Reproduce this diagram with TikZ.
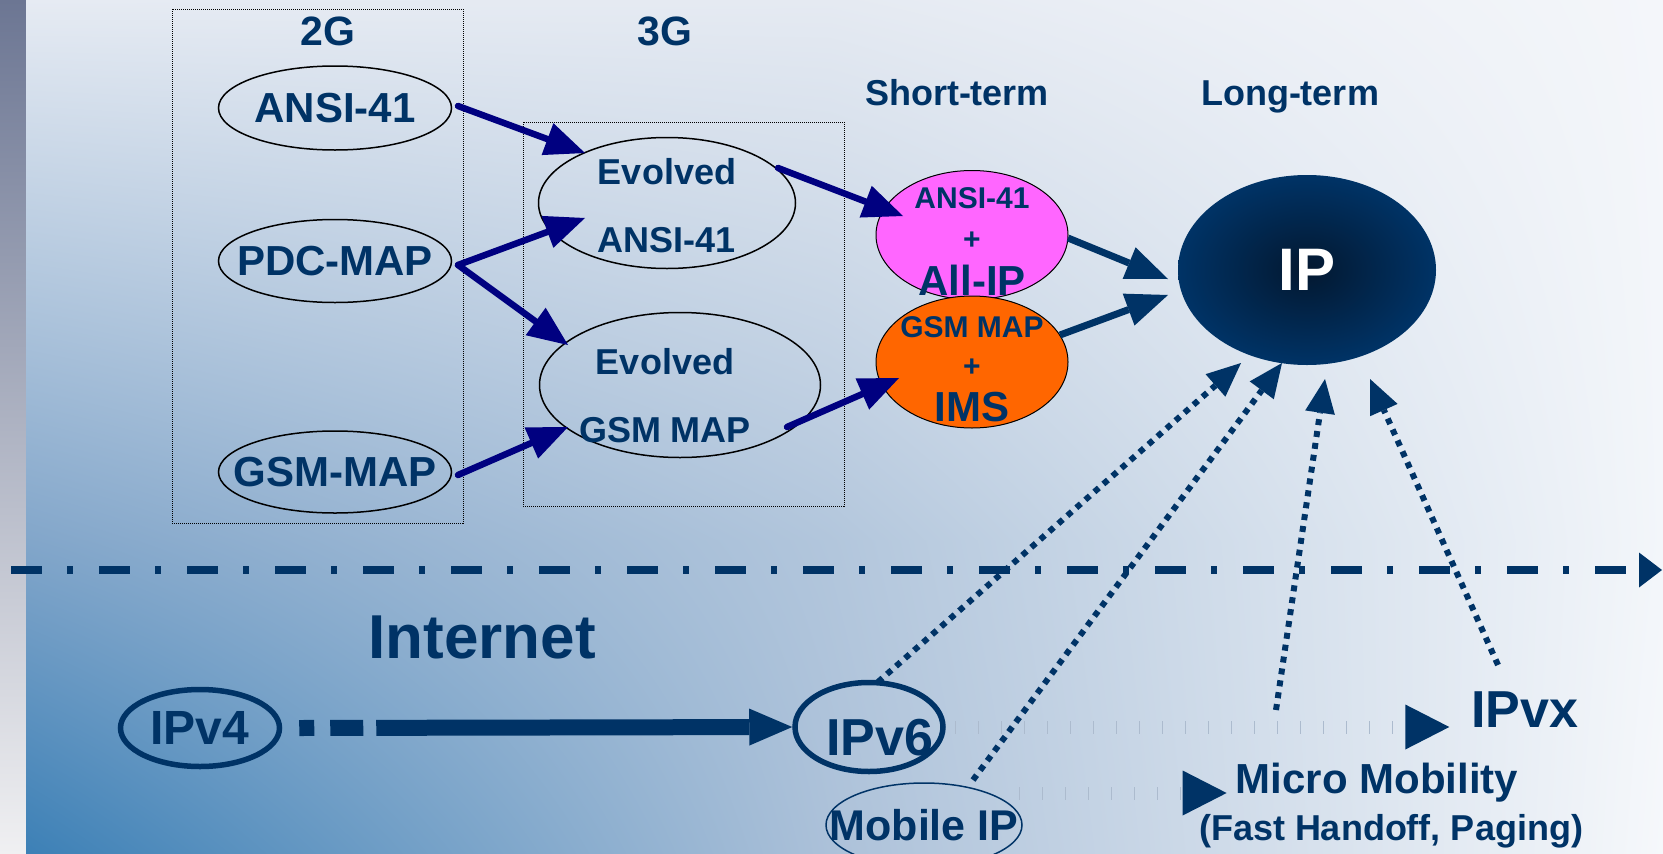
\documentclass[tikz,border=0pt]{standalone}
\usepackage{fontspec}
\setmainfont{Liberation Sans}
\usetikzlibrary{shapes.geometric,arrows.meta,shadings}

\definecolor{inkblue}{RGB}{0,51,102}
\definecolor{navyline}{RGB}{0,0,128}
\definecolor{ipcore}{RGB}{3,24,48}
\definecolor{pinkfill}{RGB}{255,102,255}
\definecolor{orangefill}{RGB}{255,102,0}
\definecolor{tickgray}{RGB}{172,187,206}
% backdrop colours, left strip and a 3x3 grid of corner colours
\definecolor{stripT}{RGB}{108,118,147}
\definecolor{stripB}{RGB}{240,240,242}
\definecolor{bgA}{RGB}{230,235,243}
\definecolor{bgB}{RGB}{229,234,242}
\definecolor{bgC}{RGB}{244,246,250}
\definecolor{bgD}{RGB}{130,166,202}
\definecolor{bgE}{RGB}{178,198,220}
\definecolor{bgF}{RGB}{243,246,250}
\definecolor{bgG}{RGB}{60,128,182}
\definecolor{bgH}{RGB}{172,193,217}
\definecolor{bgI}{RGB}{246,248,251}

\newcommand{\bsz}[1]{\fontsize{#1}{#1}\selectfont\bfseries}

\tikzset{
  lbl/.style={text=inkblue, inner sep=0pt},
  txt/.style={lbl, anchor=base},
  oval/.style={lbl, ellipse, draw=black, line width=1.5pt, inner sep=-40pt},
  ring/.style={lbl, ellipse, draw=inkblue, line width=5.5pt, inner sep=-40pt},
  frame/.style={draw=black, line width=1pt, dash pattern=on 1pt off 1pt},
  feed/.style={draw=navyline, line width=6.5pt, line cap=round,
    -{Triangle[length=40pt, width=34pt, line width=0pt 0 0]}},
  merge/.style={draw=inkblue, line width=7pt,
    -{Triangle[length=42pt, width=34pt, line width=0pt 0 0]}},
  hint/.style={draw=inkblue, line width=6pt, dash pattern=on 6pt off 6pt,
    -{Triangle[length=34pt, width=30pt, line width=0pt 0 0]}},
  ticks/.style={draw=tickgray, line width=13pt, dash pattern=on 1.2pt off 21.8pt,
    -{Triangle[length=44pt, width=45pt, line width=0pt 0 0, color=inkblue]}},
  upgrade/.style={draw=inkblue, line width=16pt,
    dash pattern=on 15pt off 16pt on 33pt off 13pt on 1000pt off 1pt,
    -{Triangle[length=43pt, width=37pt, line width=0pt 0 0]}},
  divider/.style={draw=inkblue, line width=7.5pt,
    dash pattern=on 31pt off 25pt on 6pt off 26pt,
    -{Triangle[length=23pt, width=35pt, line width=0pt 0 0]}},
}

\begin{document}
\begin{tikzpicture}[x=1pt, y=-1pt]
\useasboundingbox (0,0) rectangle (1663,854);
\clip (0,0) rectangle (1663,854);

% backdrop
\shade[top color=stripT, bottom color=stripB] (0,0) rectangle (26,854);
\shade[upper left=bgA, upper right=bgB, lower left=bgD, lower right=bgE] (26,0) rectangle (831,541);
\shade[upper left=bgB, upper right=bgC, lower left=bgE, lower right=bgF] (830,0) rectangle (1663,541);
\shade[upper left=bgD, upper right=bgE, lower left=bgG, lower right=bgH] (26,540) rectangle (831,854);
\shade[upper left=bgE, upper right=bgF, lower left=bgH, lower right=bgI] (830,540) rectangle (1663,854);

% generation boxes
\draw[frame] (172,9) rectangle (463,523);
\draw[frame] (523,122) rectangle (844,506);

\node[txt, font=\bsz{41}] (gen2) at (328,45) {2G};
\node[txt, font=\bsz{41}] (gen3) at (665,45) {3G};
\node[txt, font=\bsz{36}] (short) at (957,105) {Short-term};
\node[txt, font=\bsz{36}] (long) at (1290,105) {Long-term};

% 2G
\node[oval, minimum width=233pt, minimum height=84pt, font=\bsz{42}] (ansi) at (335,108) {ANSI-41};
\node[oval, minimum width=233pt, minimum height=83pt, font=\bsz{42}] (pdc) at (335,261) {PDC-MAP};
\node[oval, minimum width=233pt, minimum height=82pt, font=\bsz{42}] (gsm) at (335,472) {GSM-MAP};

% 3G
\node[oval, minimum width=257pt, minimum height=131pt, font=\bsz{36}, align=center] (evansi) at (667,203) {\rule{0pt}{32pt}Evolved\\[32pt]ANSI-41};
\node[oval, minimum width=281pt, minimum height=145pt] (evgsm) at (680,385) {};
\node[lbl, font=\bsz{36}, align=center] (evgsmtxt) at ([shift={(-15,11)}]evgsm.center) {Evolved\\[32pt]GSM MAP};

% short-term
\node[oval, line width=1pt, fill=pinkfill, minimum width=192pt, minimum height=129pt, font=\bsz{30}, align=center] (allip) at (972,235) {\rule{0pt}{34pt}ANSI-41\\[11pt]+\\[15pt]{\bsz{42}All-IP}};
\node[oval, line width=1pt, fill=orangefill, minimum width=192pt, minimum height=132pt, font=\bsz{30}, align=center] (ims) at (972,362) {\rule{0pt}{36pt}GSM MAP\\[9pt]+\\[15pt]{\bsz{42}IMS}};

% long-term
\node[ellipse, minimum width=258pt, minimum height=190pt, inner sep=0pt, inner color=ipcore, outer color=inkblue, text=white, font=\bsz{60}] (ip) at (1307,270) {IP};

% internet side
\draw[divider] (11,570) -- (1662,570);
\node[txt, font=\bsz{62}] (inet) at (482,658) {Internet};
\node[ring, minimum width=159pt, minimum height=77pt, font=\bsz{48}] (ipv4) at (200,728) {IPv4};
\node[ring, minimum width=148pt, minimum height=89pt] (ipv6) at (869,727) {};
\node[txt, font=\bsz{52}] (ipv6txt) at (880,755) {IPv6};
\node[lbl, ellipse, draw=inkblue, line width=1.5pt, inner sep=-40pt, minimum width=196pt, minimum height=84pt, font=\bsz{43}] (mobip) at (924,825) {Mobile IP};
\node[txt, font=\bsz{52}] (ipvx) at (1525,727) {IPvx};
\node[txt, font=\bsz{42}] (micro) at (1377,793) {Micro Mobility};
\node[txt, font=\bsz{36}] (paging) at (1391,840) {(Fast Handoff, Paging)};

% evolution paths
\draw[feed] ([shift={(123,-2)}]ansi.center) -- ([shift={(-82,-50)}]evansi.center);
\draw[feed] ([shift={(123,4)}]pdc.center) -- ([shift={(-82,15)}]evansi.center);
\draw[feed] ([shift={(123,4)}]pdc.center) -- ([shift={(-112,-40)}]evgsm.center);
\draw[feed] ([shift={(123,3)}]gsm.center) -- ([shift={(-112,42)}]evgsm.center);
\draw[feed] ([shift={(111,-35)}]evansi.center) -- ([shift={(-69,-19)}]allip.center);
\draw[feed] ([shift={(107,42)}]evgsm.center) -- ([shift={(-73,16)}]ims.center);
\draw[merge] ([shift={(96,3)}]allip.center) -- ([shift={(-139,9)}]ip.center);
\draw[merge] ([shift={(88,-27)}]ims.center) -- ([shift={(-139,25)}]ip.center);

% IPv4 -> IPv6 -> IPvx
\draw[upgrade] ([xshift=17pt]ipv4.east) -- (ipv6.west);
\draw[ticks] ([xshift=86pt]ipv6.center) -- ([xshift=-22pt]ipvx.base west);
\draw[ticks] ([shift={(95,-32)}]mobip.center) -- ([xshift=-9pt]micro.base west);

% feeding into IP
\draw[hint] ([shift={(9,-45)}]ipv6.center) -- ([shift={(-66,93)}]ip.center);
\draw[hint] ([shift={(49,-45)}]mobip.center) -- ([shift={(-25,93)}]ip.center);
\draw[hint] ([shift={(-101,-83)}]micro.base) -- ([shift={(18,109)}]ip.center);
\draw[hint] ([shift={(-27,-62)}]ipvx.base) -- ([shift={(63,109)}]ip.center);

\end{tikzpicture}
\end{document}
